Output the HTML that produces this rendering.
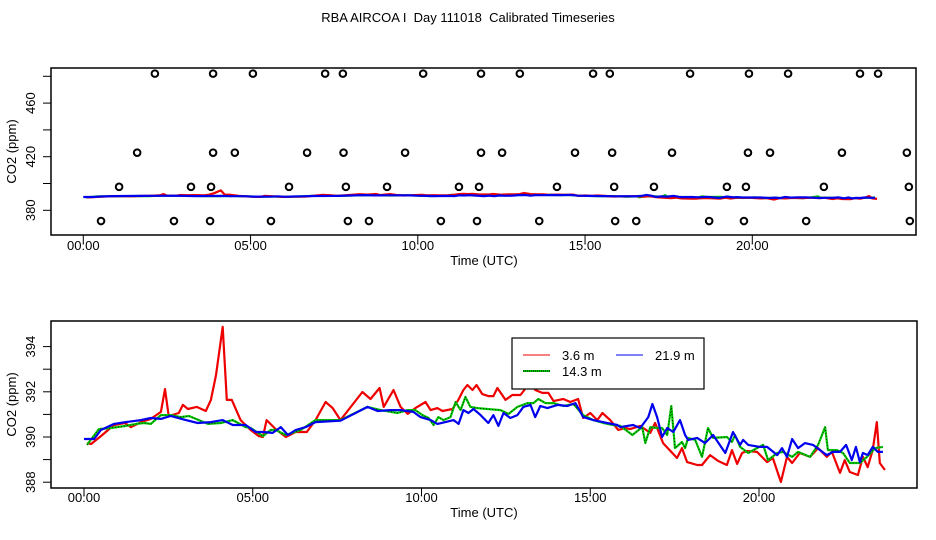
<!DOCTYPE html>
<html><head><meta charset="utf-8"><style>
html,body{margin:0;padding:0;background:#fff;}
svg{display:block;font-family:"Liberation Sans",Arial,sans-serif;}
</style></head><body>
<svg id="chart" width="936" height="540" viewBox="0 0 936 540" xmlns="http://www.w3.org/2000/svg">
<text x="468" y="22" text-anchor="middle" font-size="13" style="white-space:pre">RBA AIRCOA I  Day 111018  Calibrated Timeseries</text>
<g id="topPanel"></g>
<g id="botPanel"></g>
</svg>
<script>
// ---- data ----
const circleRowPpm = [482, 423, 397.5, 372];
const circleTimes = [
 [2.14,3.88,5.07,7.23,7.76,10.16,11.89,13.05,15.24,15.74,18.14,19.90,21.07,23.22,23.76],
 [1.61,3.88,4.53,6.69,7.78,9.62,11.89,12.52,14.70,15.81,17.60,19.87,20.53,22.68,24.62],
 [1.07,3.22,3.82,6.15,7.85,9.08,11.23,11.83,14.16,15.87,17.06,19.24,19.81,22.14,24.68],
 [0.53,2.71,3.79,5.61,7.91,8.54,10.69,11.77,13.63,15.90,16.53,18.71,19.75,21.61,24.71]
];
const redT = [0.09,0.21,0.50,0.89,1.21,1.39,1.69,1.98,2.28,2.40,2.51,2.81,2.93,3.08,3.34,3.61,3.76,3.91,4.11,4.23,4.38,4.64,4.94,5.18,5.30,5.41,5.68,5.98,6.27,6.60,6.86,7.16,7.37,7.60,8.25,8.49,8.76,8.88,9.17,9.38,9.59,9.82,10.12,10.27,10.47,10.62,10.92,11.09,11.24,11.36,11.51,11.63,11.80,11.98,12.13,12.25,12.49,12.69,12.93,13.05,13.17,13.37,13.58,13.76,13.91,14.20,14.41,14.64,14.79,15.00,15.21,15.36,15.59,15.83,16.04,16.18,16.48,16.78,16.92,17.16,17.57,17.72,17.87,18.17,18.31,18.55,18.79,19.05,19.20,19.35,19.50,19.64,19.94,20.24,20.41,20.65,20.83,20.98,21.21,21.51,21.75,22.01,22.16,22.40,22.54,22.69,22.93,23.08,23.22,23.37,23.49,23.58,23.73];
const redV = [389.73,389.69,390.04,390.53,390.62,390.44,390.66,390.80,391.11,392.12,390.93,391.06,391.42,391.24,391.33,391.15,391.64,392.74,394.87,391.64,391.64,390.75,390.31,390.04,390.00,390.75,390.35,390.00,390.22,390.22,390.75,391.55,391.28,390.75,391.99,391.68,392.17,391.33,392.08,391.33,391.02,391.28,391.55,391.19,391.28,391.15,391.24,391.64,392.08,392.30,392.08,392.30,391.90,391.81,391.81,392.17,391.64,391.86,391.86,392.08,392.88,392.08,391.95,391.95,391.59,391.68,391.55,391.68,390.84,391.06,390.75,391.06,390.75,390.31,390.40,390.35,390.49,390.18,390.62,389.73,389.07,389.51,388.89,388.76,388.76,389.20,388.94,388.76,389.42,388.81,389.29,389.38,389.34,388.89,389.07,388.01,389.12,388.85,389.29,389.12,389.51,389.12,389.34,388.41,388.98,388.45,388.32,389.12,388.67,389.42,390.66,388.85,388.54];
const greenT = [0.09,0.44,0.80,1.24,1.54,1.78,1.98,2.28,2.57,2.87,3.11,3.67,4.05,4.41,4.79,4.94,5.30,5.53,5.68,5.98,6.42,6.86,7.60,8.40,8.79,9.29,9.59,9.82,10.03,10.21,10.36,10.50,10.65,10.86,11.01,11.16,11.30,11.45,11.66,11.95,12.34,12.58,12.84,13.14,13.32,13.46,13.67,13.91,14.20,14.50,14.79,15.09,15.39,15.68,15.89,16.25,16.54,16.63,16.78,16.98,17.13,17.28,17.40,17.51,17.72,17.81,17.90,18.11,18.31,18.49,18.64,19.05,19.20,19.29,19.44,19.68,19.94,20.12,20.27,20.54,20.71,20.98,21.16,21.51,21.75,21.96,22.04,22.31,22.49,22.69,22.99,23.20,23.44,23.67];
const greenV = [389.65,390.35,390.40,390.49,390.58,390.62,390.58,390.97,390.97,390.88,390.93,390.58,390.62,390.75,390.44,390.40,390.04,390.31,390.31,390.09,390.31,390.75,390.75,391.33,391.19,391.06,391.19,391.19,390.97,390.84,390.53,390.88,390.75,390.88,391.55,391.19,391.77,391.33,391.28,391.24,391.19,391.02,391.33,391.50,391.50,391.68,391.50,391.50,391.37,391.46,390.97,390.75,390.62,390.53,390.49,390.09,390.44,389.73,390.44,390.40,390.40,390.09,391.37,389.51,389.78,389.51,389.96,389.87,389.12,390.40,389.96,390.00,389.78,390.09,389.56,389.29,389.51,389.65,388.98,389.29,389.34,389.12,389.34,389.12,389.65,390.44,389.42,389.42,389.29,388.85,388.85,389.12,389.51,389.56];
const blueT = [0.00,0.30,0.50,0.89,1.24,1.69,1.98,2.28,2.57,3.02,3.37,3.76,4.11,4.41,4.79,5.09,5.30,5.59,5.83,6.04,6.27,6.57,6.86,7.60,8.40,8.70,9.08,9.38,9.76,9.97,10.27,10.47,10.71,10.95,11.10,11.24,11.39,11.54,11.75,11.98,12.13,12.28,12.43,12.63,12.84,13.02,13.23,13.37,13.52,13.73,14.03,14.32,14.56,14.79,15.09,15.50,15.80,15.89,16.27,16.48,16.72,16.84,16.98,17.13,17.28,17.46,17.66,17.81,17.90,18.17,18.40,18.64,19.00,19.23,19.44,19.53,19.68,20.03,20.24,20.54,20.68,20.83,20.98,21.16,21.36,21.60,21.81,22.01,22.19,22.40,22.58,22.75,22.87,22.99,23.08,23.22,23.37,23.52,23.67];
const blueV = [389.91,389.91,390.31,390.58,390.66,390.75,390.84,390.80,390.93,390.75,390.62,390.66,390.75,390.53,390.53,390.22,390.22,390.18,390.44,390.09,390.31,390.44,390.66,390.72,391.33,391.15,391.19,391.19,391.11,390.88,390.75,390.58,390.66,390.75,390.58,391.19,391.06,391.24,390.97,390.62,390.97,390.49,391.06,390.84,390.97,391.33,391.42,390.88,391.37,391.28,391.42,391.37,391.50,390.88,390.75,390.62,390.53,390.44,390.53,390.40,390.88,391.46,390.88,390.00,390.40,390.22,390.75,390.09,389.87,389.96,389.73,390.09,389.29,390.22,389.65,389.87,389.65,389.56,389.56,389.20,389.51,389.12,389.91,389.51,389.73,389.65,389.42,389.20,389.34,389.34,389.65,388.98,389.56,388.89,389.29,389.20,389.56,389.34,389.34];
const xTickHours = [0,5,10,15,20];
const xTickLabels = ["00:00","05:00","10:00","15:00","20:00"];
const topYTicks = [380,400,420,440,460,480];
const topYLabels = [380,420,460];
const botYTicks = [388,389,390,391,392,393,394];
const botYLabels = [388,390,392,394];
const legendNames = ["3.6 m","14.3 m","21.9 m"];

const NS="http://www.w3.org/2000/svg";
function mk(parent,tag,attrs,text){const e=document.createElementNS(NS,tag);for(const k in attrs)e.setAttribute(k,attrs[k]);if(text!==undefined)e.textContent=text;parent.appendChild(e);return e;}

function panel(g,box,xs,ys,yTicks,yLabels,xLabelY){
  const f=mk(g,'rect',{x:box.x0,y:box.y0,width:box.x1-box.x0,height:box.y1-box.y0,fill:'none',stroke:'#000','stroke-width':1.5});
  
  
  xTickHours.forEach((h,i)=>{
    const x=xs(h);
    const t=mk(g,'line',{x1:x,x2:x,y1:box.y1,y2:box.y1+8,stroke:'#000','stroke-width':1});
    
    
    const l=mk(g,'text',{x:x,y:xLabelY,'text-anchor':'middle','font-size':13},xTickLabels[i]);
    
    
  });
  yTicks.forEach(v=>{
    const y=ys(v);
    const t=mk(g,'line',{x1:box.x0-8,x2:box.x0,y1:y,y2:y,stroke:'#000','stroke-width':1});
    
    
  });
  yLabels.forEach(v=>{
    const y=ys(v);
    const l=mk(g,'text',{x:0,y:0,'text-anchor':'middle','font-size':13,transform:`translate(35,${y}) rotate(-90)`},String(v));
    
    
  });
  const xt=mk(g,'text',{x:484,y:xLabelY+15,'text-anchor':'middle','font-size':13},'Time (UTC)');
  
  
  const yt=mk(g,'text',{x:0,y:0,'text-anchor':'middle','font-size':13,transform:`translate(16,${(box.y0+box.y1)/2}) rotate(-90)`},'CO2 (ppm)');
  
  
}
function series(g,xs,ys,T,V,color,name,dotted){
  const d=T.map((t,i)=>(i?'L':'M')+xs(t).toFixed(1)+','+ys(V[i]).toFixed(1)).join('');
  const p=mk(g,'path',{d:d,fill:'none',stroke:color,'stroke-width':2.2,'stroke-linejoin':'round'});
  
  
  if(dotted){
    const q=mk(g,'path',{d:d,fill:'none',stroke:'#000','stroke-width':0.8,'stroke-dasharray':'1 2'});
    
    
  }
}

// top panel
const topG=document.getElementById('topPanel');
const tb={x0:51,x1:916,y0:68,y1:235};
const txs=h=>83.3+h*33.45;
const tys=v=>210.3-(v-380)*1.34;
panel(topG,tb,txs,tys,topYTicks,topYLabels,250);
series(topG,txs,tys,greenT,greenV,'#00cc00','series-14-3m-top',false);
series(topG,txs,tys,redT,redV,'#ee0000','series-3-6m-top',false);
series(topG,txs,tys,blueT,blueV,'#0000ee','series-21-9m-top',false);
circleTimes.forEach((row,r)=>row.forEach(h=>{
  const c=mk(topG,'circle',{cx:txs(h),cy:tys(circleRowPpm[r]),r:3.3,fill:'none',stroke:'#000','stroke-width':2});
  
  
}));

// bottom panel
const botG=document.getElementById('botPanel');
const bb={x0:51,x1:917,y0:321,y1:488};
const bxs=h=>84+h*33.75;
const bys=v=>437-(v-390)*22.6;
panel(botG,bb,bxs,bys,botYTicks,botYLabels,502);
series(botG,bxs,bys,redT,redV,'#ee0000','series-3-6m',false);
series(botG,bxs,bys,greenT,greenV,'#00cc00','series-14-3m',true);
series(botG,bxs,bys,blueT,blueV,'#0000ee','series-21-9m',false);

// legend
const lg=mk(botG,'g',{});


const lr=mk(lg,'rect',{x:512,y:338,width:192,height:51,fill:'#fff',stroke:'#000','stroke-width':1.2});


const lpos=[[523,355,'#ee0000'],[523,371,'#00cc00'],[616,355,'#0000ee']];
legendNames.forEach((n,i)=>{
  const [x,y,c]=lpos[i];
  const ln=mk(lg,'line',{x1:x,x2:x+27,y1:y,y2:y,stroke:c,'stroke-width':i===1?2:1});
  
  
  if(i===1){
    const dl=mk(lg,'line',{x1:x,x2:x+27,y1:y,y2:y,stroke:'#000','stroke-width':1,'stroke-dasharray':'1 1'});
    
    
  }
  const tx=mk(lg,'text',{x:x+39,y:y+5,'font-size':13},n);
  
  
});
</script>
</body></html>
